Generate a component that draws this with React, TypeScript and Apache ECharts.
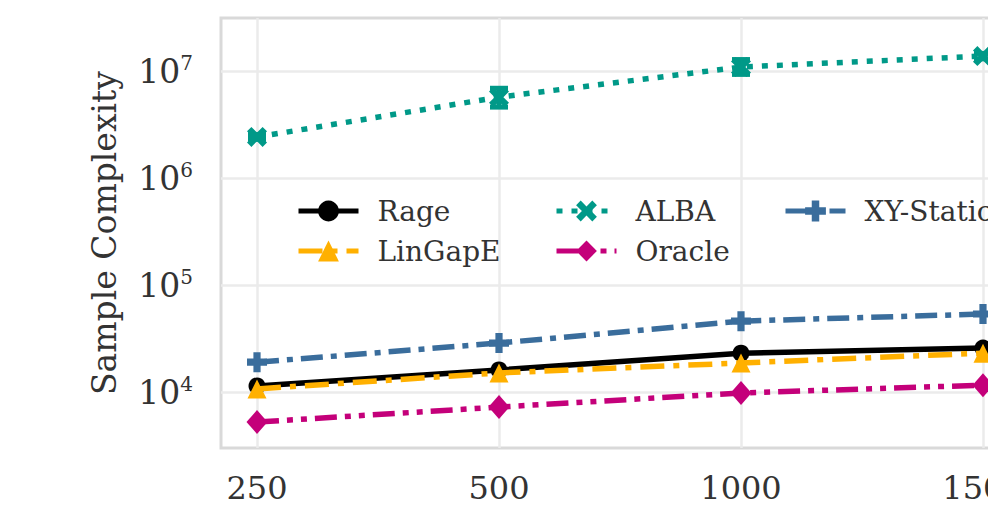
import React, { useEffect, useRef } from "react";
import * as echarts from "echarts";

const xCategories = ["250", "500", "1000", "1500"];
const xIndex = [0, 1, 2, 3];
const rage = [11400, 16100, 23100, 25800];
const linGapE = [10700, 15100, 18700, 23100];
const alba = [2420000, 5700000, 10900000, 13800000];
const albaLow = [2300000, 4600000, 9300000, 13000000];
const albaHigh = [2550000, 6900000, 12800000, 14600000];
const oracle = [5250, 7240, 9800, 11600];
const xyStatic = [19000, 28700, 46000, 53600];
const yTicks = [1e4, 1e5, 1e6, 1e7];

const FONT = "DejaVu Serif";
const TEXT = "#333333";

const PLUS = "path://M3.2,0H6.8V3.2H10V6.8H6.8V10H3.2V6.8H0V3.2H3.2Z";
const XMARK = "path://M2.2,0L5,2.8L7.8,0L10,2.2L7.2,5L10,7.8L7.8,10L5,7.2L2.2,10L0,7.8L2.8,5L0,2.2Z";

function pts(vals: number[]) {
  return vals.map((v, i) => [xIndex[i], v]);
}

export default function App() {
  const ref = useRef<HTMLDivElement>(null);
  useEffect(() => {
    if (!ref.current) return;
    const chart = echarts.init(ref.current, undefined, { renderer: "svg" });
    const lw = 5.5;
    const mk = (
      name: string,
      data: number[],
      color: string,
      symbol: string,
      symbolSize: any,
      type: any,
      z: number
    ) => ({
      name,
      type: "line",
      data: pts(data),
      symbol,
      symbolSize,
      z,
      itemStyle: { color },
      lineStyle: { color, width: lw, type, cap: "butt" },
    });
    const legendBase = {
      orient: "vertical",
      top: 186,
      itemWidth: 60,
      itemHeight: 26,
      itemGap: 0,
      lineStyle: { width: 5 },
      textStyle: {
        fontFamily: FONT,
        fontSize: 28,
        color: TEXT,
        lineHeight: 40,
        padding: [0, 0, 0, 14],
      },
    };
    chart.setOption({
      animation: false,
      backgroundColor: "#ffffff",
      grid: {
        left: 221,
        top: 18,
        width: 798,
        height: 430,
        show: true,
        borderColor: "#d9d9d9",
        borderWidth: 3,
        backgroundColor: "#ffffff",
      },
      legend: [
        { ...legendBase, left: 291, data: ["Rage", "LinGapE"] },
        { ...legendBase, left: 549, data: ["ALBA", "Oracle"] },
        { ...legendBase, left: 778, data: ["XY-Static"] },
      ],
      xAxis: {
        type: "value",
        min: -0.1488,
        max: 3.1488,
        axisLine: { show: false },
        axisTick: { show: false, customValues: xIndex },
        axisLabel: {
          customValues: xIndex,
          formatter: (v: number) => xCategories[Math.round(v)] ?? "",
          fontFamily: FONT,
          fontSize: 32,
          color: TEXT,
          margin: 24,
        },
        splitLine: { show: true, lineStyle: { color: "#ebebeb", width: 2.5 } },
      },
      yAxis: {
        type: "log",
        logBase: 10,
        min: 3000,
        max: 31300000,
        name: "Sample Complexity",
        nameLocation: "middle",
        nameGap: 100,
        nameTextStyle: { fontFamily: FONT, fontSize: 33, color: TEXT },
        axisLine: { show: false },
        axisTick: { show: false, customValues: yTicks },
        axisLabel: {
          customValues: yTicks,
          margin: 28,
          formatter: (v: number) => {
            const e = Math.log10(v);
            const r = Math.round(e);
            if (Math.abs(e - r) > 0.01) return "";
            return `{b|10}{s|${r}}`;
          },
          rich: {
            b: { fontFamily: FONT, fontSize: 33, color: TEXT, lineHeight: 36 },
            s: { fontFamily: FONT, fontSize: 20, color: TEXT, verticalAlign: "top", lineHeight: 20 },
          },
        },
        splitLine: { show: true, lineStyle: { color: "#ebebeb", width: 2.5 } },
      },
      series: [
        mk("Rage", rage, "#000000", "circle", 17, "solid", 3),
        mk("ALBA", alba, "#009988", XMARK, 20, [6, 9], 3),
        {
          name: "ALBA error",
          type: "custom",
          z: 3,
          data: xIndex.map((x, i) => [x, albaLow[i], albaHigh[i]]),
          renderItem: (params: any, api: any) => {
            const x = api.value(0);
            const lo = api.coord([x, api.value(1)]);
            const hi = api.coord([x, api.value(2)]);
            const half = 9;
            const style = { stroke: "#009988", lineWidth: 5 };
            return {
              type: "group",
              children: [
                { type: "line", shape: { x1: lo[0], y1: lo[1], x2: hi[0], y2: hi[1] }, style },
                { type: "line", shape: { x1: lo[0] - half, y1: lo[1], x2: lo[0] + half, y2: lo[1] }, style },
                { type: "line", shape: { x1: hi[0] - half, y1: hi[1], x2: hi[0] + half, y2: hi[1] }, style },
              ],
            };
          },
        },
        mk("XY-Static", xyStatic, "#3a6d9c", PLUS, 20, [22, 8, 6, 8], 3),
        mk("LinGapE", linGapE, "#ffb000", "triangle", 19, [24, 9, 6, 9], 4),
        mk("Oracle", oracle, "#c4007a", "diamond", [21, 24], [22, 8, 6, 8, 6, 8], 4),
      ],
    });
    return () => chart.dispose();
  }, []);
  return (
    <div
      style={{
        position: "fixed",
        left: 0,
        top: 0,
        width: 988,
        height: 508,
        overflow: "hidden",
        background: "#fff",
      }}
    >
      <div ref={ref} style={{ width: 1100, height: 508 }} />
    </div>
  );
}
